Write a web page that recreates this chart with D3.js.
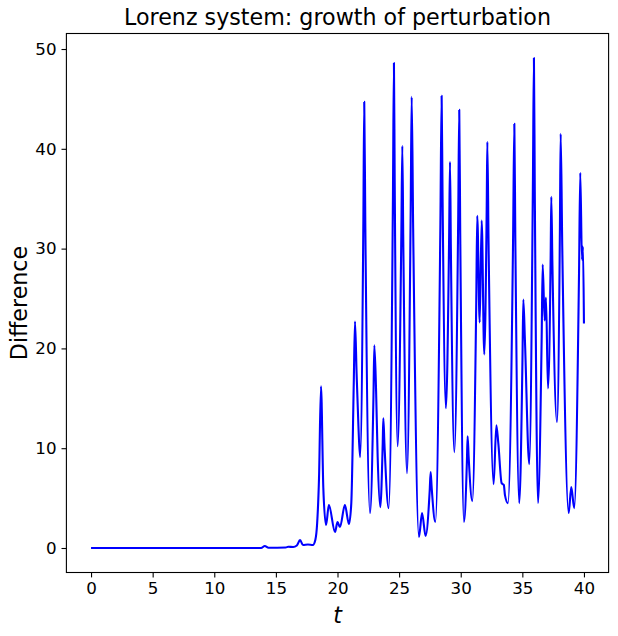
<!DOCTYPE html>
<html>
<head>
<meta charset="utf-8">
<script src="https://cdn.jsdelivr.net/npm/d3@7"></script>
<style>
  body { margin: 0; background: #fff; }
  svg { display: block; }
  text { font-family: "DejaVu Sans", sans-serif; }
</style>
</head>
<body>
<svg id="chart"></svg>
<script>
const width = 618, height = 636;
const margin = { top: 33.5, bottom: 63.5, left: 66.4, right: 9.4 };

// time points (peaks, troughs and a few flank points)
const times = [
  0, 13.8, 14.1, 14.4, 15.8, 16.0, 16.4, 16.7, 16.96, 17.2, 17.6, 18.0, 18.2, 18.35, 18.5,
  18.66, 18.85, 19.07, 19.3, 19.8, 20.0, 20.2, 20.6, 20.93, 21.12, 21.32, 21.42, 21.55,
  21.69, 21.83, 22.1, 22.17, 22.26, 22.64, 22.92, 22.99, 23.13, 23.26, 23.47, 23.67,
  23.72, 23.81, 24.15, 24.5, 24.58, 24.64, 24.88, 25.18, 25.26, 25.34, 25.64, 25.94,
  26.02, 26.14, 26.61, 26.86, 27.15, 27.48, 27.56, 27.64, 27.94, 28.35, 28.45, 28.52,
  28.8, 29.06, 29.13, 29.2, 29.48, 29.8, 29.88, 29.96, 30.26, 30.5, 30.56, 30.64, 30.94,
  31.26, 31.34, 31.54, 31.7, 31.91, 32.11, 32.16, 32.26, 32.67, 32.89, 33.05, 33.32,
  33.5, 33.59, 33.83, 34.25, 34.35, 34.43, 34.75, 35.01, 35.08, 35.21, 35.56, 35.86,
  35.94, 36.01, 36.27, 36.57, 36.65, 36.81, 36.92, 37.08, 37.3, 37.35, 37.44, 37.81,
  38.05, 38.11, 38.24, 38.76, 38.97, 39.21, 39.6, 39.7, 39.84, 39.92, 40.0
];
// difference between the two trajectories
const diffs = [
  0, 0, 0.2, 0.02, 0.05, 0.12, 0.1, 0.25, 0.8, 0.3, 0.35, 0.3, 0.8, 2.5, 7,
  16.2, 6, 2.3, 4.3, 1.6, 2.6, 2.1, 4.3, 2.4, 4.5, 16.5, 22.7, 17.5,
  12.5, 9.1, 33, 44.7, 32, 3.5, 15.3, 20.3, 15.8, 9.1, 4.1, 10.5,
  13.0, 10.4, 4.0, 35.3, 48.6, 37, 10.2, 31.3, 40.3, 30.5, 7.5, 33.9,
  45.2, 32, 1.1, 3.5, 1.2, 5.7, 7.6, 6.1, 2.6, 32.5, 45.3, 35.9,
  14.0, 31.3, 38.7, 30, 9.6, 33.6, 43.9, 31.5, 2.6, 8.6, 11.2, 9.2, 4.7,
  24.7, 33.3, 22.6, 32.8, 19.4, 34.3, 40.7, 30.4, 6.4, 12.3, 10.5, 6.5,
  6.3, 5.3, 4.5, 31.1, 42.5, 31.1, 4.5, 18.8, 24.9, 20.8, 8.4, 36.9,
  49.1, 35.7, 4.5, 21.2, 28.4, 22.8, 25.1, 16.0, 29.4, 35.2, 28.4, 12.6,
  32.2, 41.5, 30.1, 3.5, 6.1, 4.0, 27.5, 37.6, 28.9, 30.2, 22.5
];
const xTicks = [0, 5, 10, 15, 20, 25, 30, 35, 40];
const yTicks = [0, 10, 20, 30, 40, 50];

const data = times.map((t, i) => ({ t: t, d: diffs[i] }));

const svg = d3.select("#chart")
    .attr("width", width)
    .attr("height", height);

// matplotlib-like 5% margins
const xMax = d3.max(times), yMax = d3.max(diffs);
const xScale = d3.scaleLinear()
    .domain([-0.05 * xMax, xMax * 1.05])
    .range([margin.left, width - margin.right]);
const yScale = d3.scaleLinear()
    .domain([-0.05 * yMax, yMax * 1.05])
    .range([height - margin.bottom, margin.top]);

// line
const line = d3.line()
    .x(d => xScale(d.t))
    .y(d => yScale(d.d))
    .curve(d3.curveMonotoneX);

svg.append("path")
    .datum(data)
    .attr("d", line)
    .attr("fill", "none")
    .attr("stroke", "#0000ff")
    .attr("stroke-width", 2.1)
    .attr("stroke-linejoin", "round");

// axes
const xAxis = svg.append("g")
    .attr("transform", `translate(0, ${height - margin.bottom})`)
    .call(d3.axisBottom(xScale).tickValues(xTicks).tickSize(4.9).tickPadding(4.9));
const yAxis = svg.append("g")
    .attr("transform", `translate(${margin.left}, 0)`)
    .call(d3.axisLeft(yScale).tickValues(yTicks).tickSize(4.9).tickPadding(4.9));

[xAxis, yAxis].forEach(g => {
    g.select(".domain").remove();
    g.selectAll("line").attr("stroke", "#000").attr("stroke-width", 1.1);
    g.selectAll("text")
        .style("font-family", "DejaVu Sans, sans-serif")
        .style("font-size", "16.7px")
        .attr("fill", "#000");
});

// frame
svg.append("rect")
    .attr("x", margin.left)
    .attr("y", margin.top)
    .attr("width", width - margin.left - margin.right)
    .attr("height", height - margin.top - margin.bottom)
    .attr("fill", "none")
    .attr("stroke", "#000")
    .attr("stroke-width", 1.1);

// title
svg.append("text")
    .attr("x", (margin.left + width - margin.right) / 2)
    .attr("y", margin.top - 8.3)
    .attr("text-anchor", "middle")
    .style("font-size", "22.2px")
    .text("Lorenz system: growth of perturbation");

// x label
svg.append("text")
    .attr("x", (margin.left + width - margin.right) / 2)
    .attr("y", 623)
    .attr("text-anchor", "middle")
    .style("font-size", "22.2px")
    .style("font-style", "italic")
    .text("t");

// y label
svg.append("text")
    .attr("transform", `translate(27, ${(margin.top + height - margin.bottom) / 2}) rotate(-90)`)
    .attr("text-anchor", "middle")
    .style("font-size", "22.2px")
    .text("Difference");
</script>
</body>
</html>
